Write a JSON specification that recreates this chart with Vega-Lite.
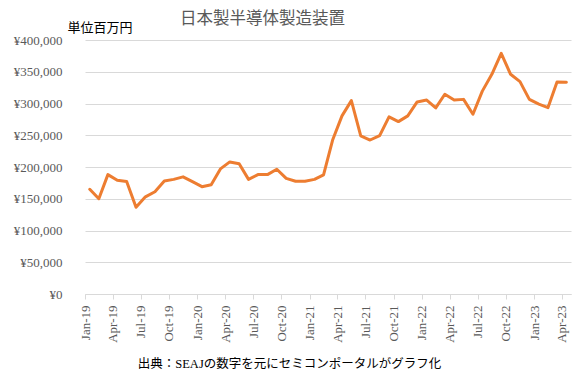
{
  "$schema": "https://vega.github.io/schema/vega-lite/v6.json",
  "autosize": {"type": "none"},
  "width": 486,
  "height": 254,
  "padding": {"left": 85, "top": 40, "right": 4, "bottom": 91},
  "background": "white",
  "title": {
    "text": "日本製半導体製造装置",
    "anchor": "start",
    "frame": "group",
    "dx": 95,
    "dy": 18,
    "offset": 12,
    "fontSize": 16.5,
    "fontWeight": "normal",
    "color": "#595959",
    "font": "'Liberation Serif', 'Noto Sans CJK JP'"
  },
  "data": {
    "values": [
      {"month": "2019-01-01", "value": 165000},
      {"month": "2019-02-01", "value": 150000},
      {"month": "2019-03-01", "value": 188000},
      {"month": "2019-04-01", "value": 179000},
      {"month": "2019-05-01", "value": 177000},
      {"month": "2019-06-01", "value": 136500},
      {"month": "2019-07-01", "value": 153000},
      {"month": "2019-08-01", "value": 161000},
      {"month": "2019-09-01", "value": 178000},
      {"month": "2019-10-01", "value": 180500},
      {"month": "2019-11-01", "value": 184500},
      {"month": "2019-12-01", "value": 177000},
      {"month": "2020-01-01", "value": 169000},
      {"month": "2020-02-01", "value": 172000},
      {"month": "2020-03-01", "value": 197000},
      {"month": "2020-04-01", "value": 208000},
      {"month": "2020-05-01", "value": 205000},
      {"month": "2020-06-01", "value": 180500},
      {"month": "2020-07-01", "value": 188000},
      {"month": "2020-08-01", "value": 188000},
      {"month": "2020-09-01", "value": 196500},
      {"month": "2020-10-01", "value": 182000},
      {"month": "2020-11-01", "value": 177500},
      {"month": "2020-12-01", "value": 177500},
      {"month": "2021-01-01", "value": 180500},
      {"month": "2021-02-01", "value": 187500},
      {"month": "2021-03-01", "value": 242500},
      {"month": "2021-04-01", "value": 280500},
      {"month": "2021-05-01", "value": 304500},
      {"month": "2021-06-01", "value": 249000},
      {"month": "2021-07-01", "value": 242500},
      {"month": "2021-08-01", "value": 249500},
      {"month": "2021-09-01", "value": 279000},
      {"month": "2021-10-01", "value": 271500},
      {"month": "2021-11-01", "value": 280500},
      {"month": "2021-12-01", "value": 302500},
      {"month": "2022-01-01", "value": 305500},
      {"month": "2022-02-01", "value": 293000},
      {"month": "2022-03-01", "value": 314500},
      {"month": "2022-04-01", "value": 305500},
      {"month": "2022-05-01", "value": 306500},
      {"month": "2022-06-01", "value": 283000},
      {"month": "2022-07-01", "value": 319500},
      {"month": "2022-08-01", "value": 346000},
      {"month": "2022-09-01", "value": 379000},
      {"month": "2022-10-01", "value": 346000},
      {"month": "2022-11-01", "value": 334500},
      {"month": "2022-12-01", "value": 306500},
      {"month": "2023-01-01", "value": 299000},
      {"month": "2023-02-01", "value": 293500},
      {"month": "2023-03-01", "value": 334000},
      {"month": "2023-04-01", "value": 333500}
    ]
  },
  "mark": {"type": "line", "color": "#ED7D31", "strokeWidth": 3, "strokeJoin": "round", "strokeCap": "round"},
  "encoding": {
    "x": {
      "field": "month",
      "type": "temporal",
      "timeUnit": "utcyearmonth",
      "bandPosition": 0.5,
      "scale": {
        "type": "utc",
        "domain": [
          {"year": 2019, "month": 1, "date": 1, "utc": true},
          {"year": 2023, "month": 5, "date": 1, "utc": true}
        ]
      },
      "axis": {
        "tickCount": {"interval": "month", "step": 3},
        "format": "%b-%y",
        "labelAngle": 270,
        "labelFontSize": 13,
        "labelColor": "#595959",
        "labelPadding": 6,
        "tickSize": 5,
        "tickColor": "#d9d9d9",
        "domainColor": "#d9d9d9",
        "grid": false,
        "labelOverlap": false,
        "labelFlush": false,
        "title": "出典：SEAJの数字を元にセミコンポータルがグラフ化",
        "titleFontSize": 12.5,
        "titleFontWeight": "normal",
        "titleColor": "#000000",
        "titleAlign": "center",
        "titleBaseline": "middle",
        "titleX": 204,
        "titleY": 69
      }
    },
    "y": {
      "field": "value",
      "type": "quantitative",
      "scale": {"domain": [0, 400000], "nice": false},
      "axis": {
        "values": [0, 50000, 100000, 150000, 200000, 250000, 300000, 350000, 400000],
        "labelExpr": "'¥' + format(datum.value, ',')",
        "labelFontSize": 13,
        "labelColor": "#595959",
        "labelPadding": 23,
        "ticks": false,
        "domain": false,
        "grid": true,
        "gridColor": "#d9d9d9",
        "gridWidth": 1,
        "title": "単位百万円",
        "titleAngle": 0,
        "titleX": -18,
        "titleY": -13,
        "titleAlign": "left",
        "titleBaseline": "middle",
        "titleFontSize": 13,
        "titleFontWeight": "normal",
        "titleColor": "#000000"
      }
    }
  },
  "config": {
    "font": "'Liberation Serif', 'Noto Sans CJK JP'",
    "view": {"stroke": null}
  }
}
